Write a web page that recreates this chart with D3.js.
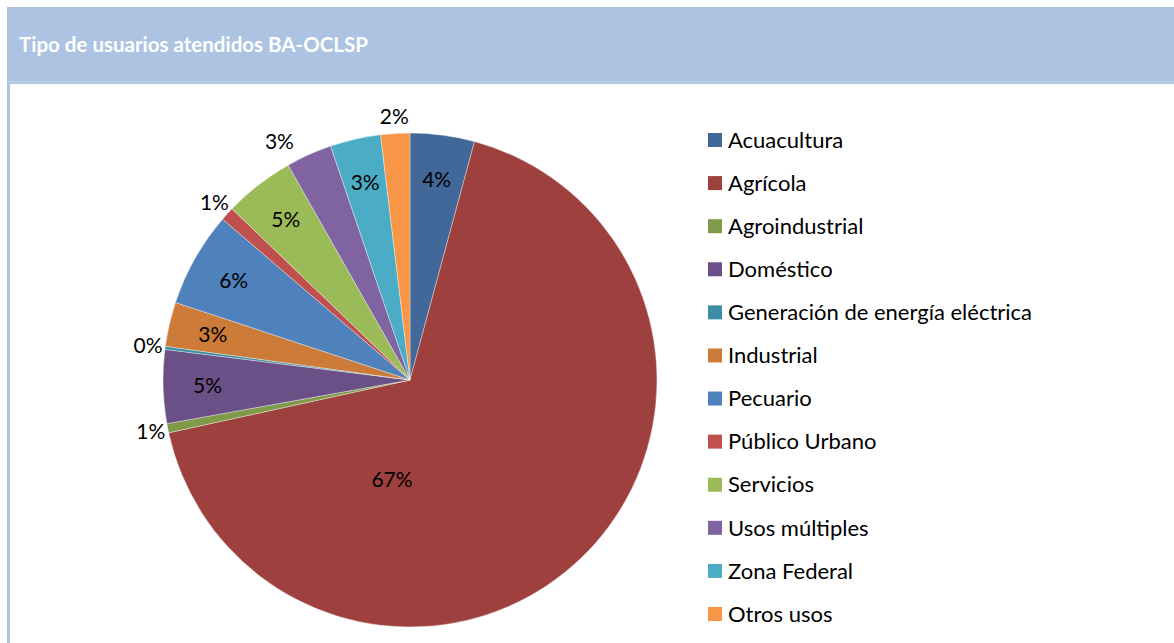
<!DOCTYPE html>
<html>
<head>
<meta charset="utf-8">
<script src="https://cdn.jsdelivr.net/npm/d3@7"></script>
<style>
  body { margin: 0; background: #fff; }
  svg { display: block; font-family: Lato, "Open Sans", sans-serif; }
</style>
</head>
<body>
<div id="chart"></div>
<script>
var title = "Tipo de usuarios atendidos BA-OCLSP";

var categories = ["Acuacultura", "Agrícola", "Agroindustrial", "Doméstico",
    "Generación de energía eléctrica", "Industrial", "Pecuario", "Público Urbano",
    "Servicios", "Usos múltiples", "Zona Federal", "Otros usos"];

// porcentajes
var values = [4.2, 67.3, 0.6, 4.8, 0.2, 2.9, 6.2, 0.9, 4.6, 3.0, 3.3, 1.9];

var colors = ["#416898", "#9e413e", "#7f9a48", "#6a5086", "#3c8da3", "#cc7b38",
    "#4f81bd", "#c0504d", "#9bbb59", "#8064a2", "#4bacc6", "#f79646"];

var width = 1174, height = 643;
var cx = 410, cy = 380, radius = 247;

// etiquetas que van fuera de la rebanada (como en Excel)
var outside = ["Agroindustrial", "Generación de energía eléctrica", "Público Urbano", "Usos múltiples", "Otros usos"];

var svg = d3.select("#chart").append("svg")
    .attr("width", width)
    .attr("height", height);

// marco y cabecera
svg.append("rect")
    .attr("x", 7).attr("y", 7)
    .attr("width", width - 7).attr("height", 77)
    .attr("fill", "#adc3e2");
svg.append("rect")
    .attr("x", 7).attr("y", 81)
    .attr("width", width - 7).attr("height", 1.5)
    .attr("fill", "#bccfe9");
svg.append("rect")
    .attr("x", 7).attr("y", 84)
    .attr("width", 3).attr("height", height - 84)
    .attr("fill", "#adc3e2");

svg.append("text")
    .attr("x", 19).attr("y", 52)
    .attr("fill", "#fff")
    .attr("font-weight", "bold")
    .attr("font-size", 20.5)
    .text(title);

var data = categories.map(function(c, i) { return {name: c, value: values[i], color: colors[i]}; });
var total = d3.sum(values);

var pie = d3.pie().sort(null).value(function(d) { return d.value; });
var arcs = pie(data);

var arc = d3.arc().innerRadius(0).outerRadius(radius);

var g = svg.append("g").attr("transform", "translate(" + cx + "," + cy + ")");

g.selectAll("path")
    .data(arcs)
    .join("path")
        .attr("d", arc)
        .attr("fill", function(d) { return d.data.color; })
        .attr("stroke", "#ffffff")
        .attr("stroke-opacity", 0.6)
        .attr("stroke-width", 0.6);

var maxVal = d3.max(values);

function labelPos(d) {
    var a, r;
    if (d.data.value === maxVal) {
        a = d.startAngle + 0.722 * (d.endAngle - d.startAngle);
        r = radius * 0.41;
    } else {
        a = (d.startAngle + d.endAngle) / 2;
        r = outside.indexOf(d.data.name) >= 0 ? radius * 1.07 : radius * 0.82;
        if (d.data.name === "Usos múltiples") { a -= 0.08; r = radius * 1.1; }
    }
    return [Math.sin(a) * r, -Math.cos(a) * r];
}

g.selectAll("text.lbl")
    .data(arcs)
    .join("text")
        .attr("class", "lbl")
        .attr("x", function(d) { return labelPos(d)[0]; })
        .attr("y", function(d) { return labelPos(d)[1]; })
        .attr("text-anchor", "middle")
        .attr("dy", "0.35em")
        .attr("font-size", 21)
        .attr("fill", "#000")
        .text(function(d) { return Math.round(d.data.value / total * 100) + "%"; });

// leyenda
var ly = d3.scalePoint().domain(categories).range([140, 614]);

var legend = svg.append("g").selectAll("g")
    .data(data)
    .join("g")
        .attr("transform", function(d) { return "translate(708," + ly(d.name) + ")"; });

legend.append("rect")
    .attr("x", 0).attr("y", -7)
    .attr("width", 14).attr("height", 14)
    .attr("fill", function(d) { return d.color; });

legend.append("text")
    .attr("x", 20)
    .attr("dy", "0.35em")
    .attr("font-size", 22)
    .attr("fill", "#000")
    .text(function(d) { return d.name; });
</script>
</body>
</html>
